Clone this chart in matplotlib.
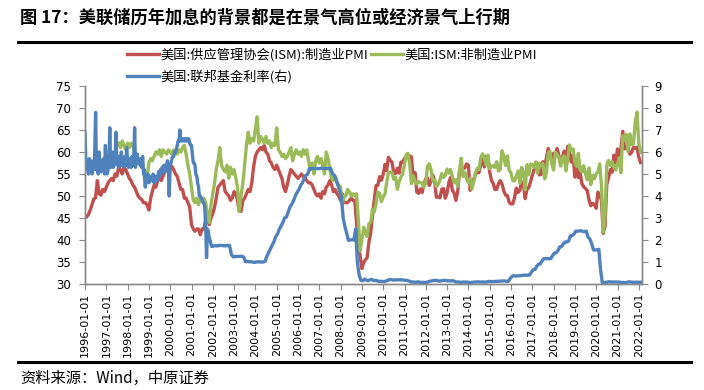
import matplotlib
matplotlib.use("Agg")
import matplotlib.pyplot as plt
import matplotlib.dates as mdates
from matplotlib.lines import Line2D
import pandas as pd

# ---------------- data ----------------
# US ISM manufacturing PMI, monthly 1996-01 .. 2022-01
ism_mfg = [
    45.3, 45.8, 46.8, 48.0, 49.3, 49.6, 53.5, 50.5, 50.2, 51.5, 51.0, 52.0,  # 1996
    53.0, 53.5, 54.0, 53.5, 55.0, 54.5, 56.5, 56.0, 55.0, 56.5, 56.0, 55.0,  # 1997
    54.0, 53.5, 52.5, 52.0, 51.0, 50.0, 49.5, 49.2, 48.5, 48.5, 48.0, 46.8,  # 1998
    49.5, 51.0, 52.5, 52.0, 53.5, 54.0, 53.5, 54.5, 55.5, 56.0, 56.5, 56.0,  # 1999
    56.7, 56.0, 55.0, 54.5, 53.0, 51.5, 51.5, 49.5, 49.5, 48.5, 47.5, 43.5,  # 2000
    42.5, 42.0, 42.5, 42.5, 41.2, 42.5, 42.5, 44.5, 45.5, 43.5, 45.0, 46.0,  # 2001
    47.5, 49.5, 52.0, 52.5, 53.0, 53.5, 51.0, 50.5, 50.0, 49.0, 49.5, 51.0,  # 2002
    50.5, 49.0, 46.5, 46.5, 49.0, 49.5, 50.5, 51.5, 51.0, 53.0, 56.5, 59.0,  # 2003
    60.0, 60.5, 61.0, 60.5, 61.5, 60.0, 59.5, 58.0, 57.5, 56.5, 56.0, 57.0,  # 2004
    56.0, 55.0, 54.0, 52.0, 51.0, 52.5, 54.5, 56.0, 55.5, 55.0, 54.5, 54.0,  # 2005
    54.5, 55.0, 54.5, 54.0, 53.5, 53.0, 53.0, 52.5, 51.5, 50.5, 50.0, 50.5,  # 2006
    49.5, 51.0, 50.5, 52.0, 52.5, 53.5, 52.5, 51.0, 51.5, 50.5, 50.0, 49.0,  # 2007
    50.5, 48.5, 48.5, 48.5, 49.0, 49.5, 49.0, 49.0, 44.0, 38.5, 36.5, 33.5,  # 2008
    34.9, 35.5, 36.0, 39.5, 41.7, 45.3, 49.1, 52.4, 52.4, 54.4, 53.6, 54.9,  # 2009
    57.2, 55.8, 58.8, 58.1, 57.7, 55.3, 55.1, 56.3, 55.2, 57.7, 57.6, 58.5,  # 2010
    59.0, 59.3, 59.1, 58.9, 53.5, 55.3, 50.9, 50.6, 51.6, 50.8, 52.7, 53.9,  # 2011
    54.1, 52.4, 53.4, 54.8, 53.5, 49.7, 49.8, 49.6, 51.5, 51.7, 49.5, 50.7,  # 2012
    53.1, 54.2, 51.3, 50.7, 49.0, 50.9, 55.4, 55.7, 56.2, 56.4, 57.3, 57.0,  # 2013
    51.3, 53.2, 53.7, 54.9, 55.4, 55.3, 57.1, 59.0, 56.6, 59.0, 58.7, 55.5,  # 2014
    53.5, 52.9, 51.5, 51.5, 52.8, 53.5, 52.7, 51.1, 50.2, 50.1, 48.6, 48.2,  # 2015
    48.2, 49.5, 51.8, 50.8, 51.3, 53.2, 52.6, 49.4, 51.5, 51.9, 53.2, 54.7,  # 2016
    56.0, 57.7, 57.2, 54.8, 54.9, 57.8, 56.3, 58.8, 60.8, 58.7, 58.2, 59.7,  # 2017
    59.1, 60.8, 59.3, 57.3, 58.7, 60.2, 58.1, 61.3, 59.8, 57.7, 59.3, 54.3,  # 2018
    56.6, 54.2, 55.3, 52.8, 52.1, 51.7, 51.2, 49.1, 47.8, 48.3, 48.1, 47.2,  # 2019
    50.9, 50.1, 49.1, 41.5, 43.1, 52.6, 54.2, 56.0, 55.4, 59.3, 57.5, 60.7,  # 2020
    58.7, 60.8, 64.7, 60.7, 61.2, 60.6, 59.5, 59.9, 61.1, 60.8, 61.1, 58.8,  # 2021
    57.6,                                                                     # 2022
]

# US ISM non-manufacturing PMI, monthly 1997-07 .. 2022-01
ism_nonmfg = [
    62.0, 61.0, 62.5, 61.5, 60.5, 62.0,                                      # 1997 H2
    61.0, 62.0, 61.5, 60.0, 59.0, 58.0, 57.5, 58.5, 56.0, 52.5, 54.0, 57.5,  # 1998
    58.5, 58.0, 59.0, 60.0, 59.5, 60.5, 59.0, 60.5, 60.0, 59.5, 60.5, 60.0,  # 1999
    59.5, 60.5, 60.0, 59.5, 60.5, 60.0, 61.0, 61.5, 59.5, 57.0, 55.0, 52.0,  # 2000
    49.0, 48.5, 49.5, 48.0, 49.5, 49.0, 49.5, 48.5, 46.0, 44.0, 48.0, 50.5,  # 2001
    53.0, 56.0, 58.0, 61.0, 57.0, 56.0, 55.5, 57.0, 54.0, 56.5, 55.0, 56.0,  # 2002
    54.0, 52.0, 46.5, 50.0, 53.0, 57.0, 61.5, 64.5, 62.0, 63.0, 62.5, 65.0,  # 2003
    68.0, 62.0, 63.5, 63.0, 62.0, 63.5, 62.0, 62.5, 61.0, 62.0, 61.5, 65.5,  # 2004
    60.5, 60.0, 59.0, 59.5, 58.5, 59.0, 60.0, 61.0, 58.0, 59.5, 60.5, 59.5,  # 2005
    60.0, 59.0, 60.5, 59.5, 60.5, 58.0, 56.0, 57.5, 55.0, 58.0, 59.0, 57.5,  # 2006
    58.5, 57.0, 55.0, 60.0, 58.5, 56.0, 54.0, 53.5, 54.5, 53.0, 52.5, 52.0,  # 2007
    48.0, 50.0, 50.0, 51.5, 51.0, 50.0, 50.5, 50.0, 50.5, 44.5, 37.5, 40.1,  # 2008
    42.9, 41.6, 40.8, 43.7, 44.0, 47.0, 46.4, 48.4, 50.9, 50.6, 48.7, 49.8,  # 2009
    50.5, 53.0, 55.4, 55.4, 55.4, 53.8, 54.3, 51.5, 53.2, 54.3, 55.0, 57.1,  # 2010
    59.4, 59.7, 57.3, 52.8, 54.6, 53.3, 52.7, 53.3, 53.0, 52.9, 52.0, 53.0,  # 2011
    56.8, 57.3, 56.0, 53.5, 53.7, 52.1, 52.6, 53.7, 55.1, 54.2, 54.7, 56.1,  # 2012
    55.2, 56.0, 54.4, 53.1, 53.7, 52.2, 56.0, 58.6, 54.4, 55.4, 53.9, 53.0,  # 2013
    54.0, 51.6, 53.1, 55.2, 56.3, 56.0, 58.7, 59.6, 58.6, 57.1, 59.3, 56.2,  # 2014
    56.7, 56.9, 56.5, 57.8, 55.7, 56.0, 60.3, 59.0, 56.9, 59.1, 55.9, 55.3,  # 2015
    53.5, 53.4, 54.5, 55.7, 52.9, 56.5, 55.5, 51.4, 57.1, 54.8, 57.2, 57.2,  # 2016
    56.5, 57.6, 55.2, 57.5, 56.9, 57.4, 53.9, 55.3, 59.8, 60.1, 57.4, 55.9,  # 2017
    59.9, 59.5, 58.8, 56.8, 58.6, 59.1, 55.7, 58.5, 61.6, 60.3, 60.7, 57.6,  # 2018
    56.7, 59.7, 56.1, 55.5, 56.9, 55.1, 53.7, 56.4, 52.6, 54.7, 53.9, 55.0,  # 2019
    55.5, 57.3, 52.5, 41.8, 45.4, 57.1, 58.1, 56.9, 57.8, 56.6, 55.9, 57.2,  # 2020
    58.7, 55.3, 63.7, 62.7, 64.0, 60.1, 64.1, 61.7, 61.9, 66.7, 69.1, 62.0,  # 2021
    59.9,                                                                     # 2022
]

# Fed funds rate (right axis), twice a month 1996-01 .. 2001-12
fed_semimonthly = [
    6.9, 5.6, 5.2, 5.5, 5.0, 5.7, 5.2, 5.6, 5.0, 5.5, 5.2, 5.9, 7.8, 5.2, 5.6, 5.0, 6.0, 5.3, 5.1, 5.6, 5.2, 5.7, 5.0, 6.3,  # 1996
    5.3, 5.0, 5.2, 5.6, 7.1, 5.3, 5.4, 6.0, 5.3, 5.7, 5.5, 6.9, 5.4, 5.7, 5.3, 5.8, 5.4, 6.0, 5.4, 5.7, 5.3, 5.8, 5.4, 6.2,  # 1997
    5.6, 5.3, 5.5, 5.7, 5.3, 5.8, 5.4, 5.6, 7.1, 5.3, 5.6, 5.9, 5.5, 5.6, 5.4, 5.7, 5.3, 5.8, 5.0, 5.2, 4.4, 4.9, 4.7, 5.0,  # 1998
    4.6, 4.8, 4.7, 4.9, 4.7, 5.0, 4.6, 4.9, 4.7, 4.9, 4.7, 5.1, 4.9, 5.2, 5.0, 5.3, 5.1, 5.4, 5.1, 5.3, 5.4, 5.6, 5.2, 4.0,  # 1999
    5.4, 5.5, 5.7, 5.8, 5.8, 6.0, 6.0, 6.1, 6.3, 6.5, 6.5, 7.0, 6.5, 6.6, 6.5, 6.6, 6.5, 6.6, 6.5, 6.6, 6.5, 6.6, 6.4, 6.3,  # 2000
    6.3, 5.9, 5.5, 5.5, 5.4, 5.0, 4.9, 4.6, 4.4, 4.0, 4.0, 3.9, 3.8, 3.7, 3.7, 3.5, 2.6, 1.2, 2.5, 2.4, 2.1, 2.0, 1.8, 1.7,  # 2001
]

# Fed funds rate (right axis), monthly 2002-01 .. 2022-02
fed_monthly = [
    1.73, 1.74, 1.73, 1.75, 1.75, 1.75, 1.73, 1.74, 1.75, 1.75, 1.34, 1.24,  # 2002
    1.24, 1.26, 1.25, 1.26, 1.26, 1.22, 1.01, 1.03, 1.01, 1.01, 1.00, 0.98,  # 2003
    1.00, 1.01, 1.00, 1.00, 1.00, 1.03, 1.26, 1.43, 1.61, 1.76, 1.93, 2.16,  # 2004
    2.28, 2.50, 2.63, 2.79, 3.00, 3.04, 3.26, 3.50, 3.62, 3.78, 4.00, 4.16,  # 2005
    4.29, 4.49, 4.59, 4.79, 4.94, 4.99, 5.24, 5.25, 5.25, 5.25, 5.25, 5.24,  # 2006
    5.25, 5.26, 5.26, 5.25, 5.25, 5.25, 5.26, 5.02, 4.94, 4.76, 4.49, 4.24,  # 2007
    3.94, 2.98, 2.61, 2.28, 1.98, 2.00, 2.01, 2.00, 2.50, 0.97, 0.39, 0.16,  # 2008
    0.15, 0.22, 0.18, 0.15, 0.18, 0.21, 0.16, 0.16, 0.15, 0.12, 0.12, 0.12,  # 2009
    0.11, 0.13, 0.16, 0.20, 0.20, 0.18, 0.18, 0.19, 0.19, 0.19, 0.19, 0.18,  # 2010
    0.17, 0.16, 0.14, 0.10, 0.09, 0.09, 0.07, 0.10, 0.08, 0.07, 0.08, 0.07,  # 2011
    0.08, 0.10, 0.13, 0.14, 0.16, 0.16, 0.16, 0.13, 0.14, 0.16, 0.16, 0.16,  # 2012
    0.14, 0.15, 0.14, 0.15, 0.11, 0.09, 0.09, 0.08, 0.08, 0.09, 0.08, 0.09,  # 2013
    0.07, 0.07, 0.08, 0.09, 0.09, 0.10, 0.09, 0.09, 0.09, 0.09, 0.09, 0.12,  # 2014
    0.11, 0.11, 0.11, 0.12, 0.12, 0.13, 0.13, 0.14, 0.14, 0.12, 0.12, 0.24,  # 2015
    0.34, 0.38, 0.36, 0.37, 0.37, 0.38, 0.39, 0.40, 0.40, 0.40, 0.41, 0.54,  # 2016
    0.65, 0.66, 0.79, 0.90, 0.91, 1.04, 1.15, 1.16, 1.15, 1.15, 1.16, 1.30,  # 2017
    1.41, 1.42, 1.51, 1.69, 1.70, 1.82, 1.91, 1.91, 1.95, 2.19, 2.20, 2.27,  # 2018
    2.40, 2.40, 2.41, 2.42, 2.39, 2.38, 2.40, 2.13, 2.04, 1.83, 1.55, 1.55,  # 2019
    1.55, 1.58, 0.65, 0.05, 0.05, 0.08, 0.09, 0.10, 0.09, 0.09, 0.09, 0.09,  # 2020
    0.09, 0.08, 0.07, 0.07, 0.06, 0.08, 0.10, 0.09, 0.08, 0.08, 0.08, 0.08,  # 2021
    0.08, 0.08,                                                              # 2022
]

labels = ["美国:供应管理协会(ISM):制造业PMI", "美国:ISM:非制造业PMI", "美国:联邦基金利率(右)"]
title = "图 17：美联储历年加息的背景都是在景气高位或经济景气上行期"
source = "资料来源：Wind，中原证券"

# ---------------- dates ----------------
mfg_dates = pd.date_range("1996-01-31", periods=len(ism_mfg), freq="ME")
nonmfg_dates = pd.date_range("1997-07-31", periods=len(ism_nonmfg), freq="ME")
fed_dates_a = pd.date_range("1996-01-01", periods=len(fed_semimonthly), freq="SMS")
fed_dates_b = pd.date_range("2002-01-01", periods=len(fed_monthly), freq="MS") + pd.Timedelta(days=14)
fed_dates = fed_dates_a.append(fed_dates_b)
fed_vals = fed_semimonthly + fed_monthly

# ---------------- style ----------------
RED = "#C0504D"
GREEN = "#9BBB59"
BLUE = "#4F81BD"
GREY = "#898989"
CJK = ["Noto Sans CJK SC", "DejaVu Sans"]
plt.rcParams["font.family"] = ["DejaVu Sans", "Noto Sans CJK SC"]

W, H = 704, 390
fig = plt.figure(figsize=(W / 100, H / 100), dpi=100)
L, R, T, B = 85, 642, 86, 284
ax = fig.add_axes([L / W, 1 - B / H, (R - L) / W, (B - T) / H])
ax2 = ax.twinx()

lw = 2.4
h_red, = ax.plot(mfg_dates, ism_mfg, color=RED, lw=lw, solid_joinstyle="round", zorder=2)
h_green, = ax.plot(nonmfg_dates, ism_nonmfg, color=GREEN, lw=lw, solid_joinstyle="round", zorder=3)
h_blue, = ax2.plot(fed_dates, fed_vals, color=BLUE, lw=lw, solid_joinstyle="round")

ax.set_xlim(pd.Timestamp("1996-01-01"), pd.Timestamp("2022-02-24"))
ax.set_ylim(30, 75)
ax.set_yticks(range(30, 80, 5))
ax2.set_ylim(0, 9)
ax2.set_yticks(range(0, 10))

ax.xaxis.set_major_locator(mdates.YearLocator(1, month=1, day=1))
ax.xaxis.set_major_formatter(mdates.DateFormatter("%Y-%m-%d"))
for lab in ax.get_xticklabels():
    lab.set_rotation(90)

for a in (ax, ax2):
    a.spines["top"].set_visible(False)
    for s in ("left", "right", "bottom"):
        a.spines[s].set_color(GREY)
        a.spines[s].set_linewidth(1.0)

ax.tick_params(axis="y", direction="out", length=4, color=GREY, labelsize=8.5, pad=6)
ax2.tick_params(axis="y", direction="out", length=4, color=GREY, labelsize=8.5, pad=5)
ax.tick_params(axis="x", direction="out", length=4, color=GREY, labelsize=8, pad=2)

# legend (two rows: red + green, then blue)
fig.legend(handles=[h_red, h_blue, h_green], labels=[labels[0], labels[2], labels[1]],
           ncol=2, loc="upper left", bbox_to_anchor=(127 / W, 1 - 48 / H),
           frameon=False, handlelength=2.4, handletextpad=0.15, columnspacing=0.2,
           labelspacing=0.6, borderpad=0, borderaxespad=0,
           prop={"family": CJK, "size": 9.5})

# title, rules and source
fig.text(20 / W, 1 - 18 / H, title, fontsize=12.4, fontweight="bold", family=CJK,
         ha="left", va="center")
fig.add_artist(Line2D([18 / W, 691 / W], [1 - 42 / H] * 2, color="black", lw=2.2))
fig.add_artist(Line2D([18 / W, 691 / W], [1 - 362 / H] * 2, color="black", lw=2.2))
fig.text(20 / W, 1 - 378 / H, source, fontsize=11, family=CJK, ha="left", va="center")

fig.savefig("out.png", dpi=100)
